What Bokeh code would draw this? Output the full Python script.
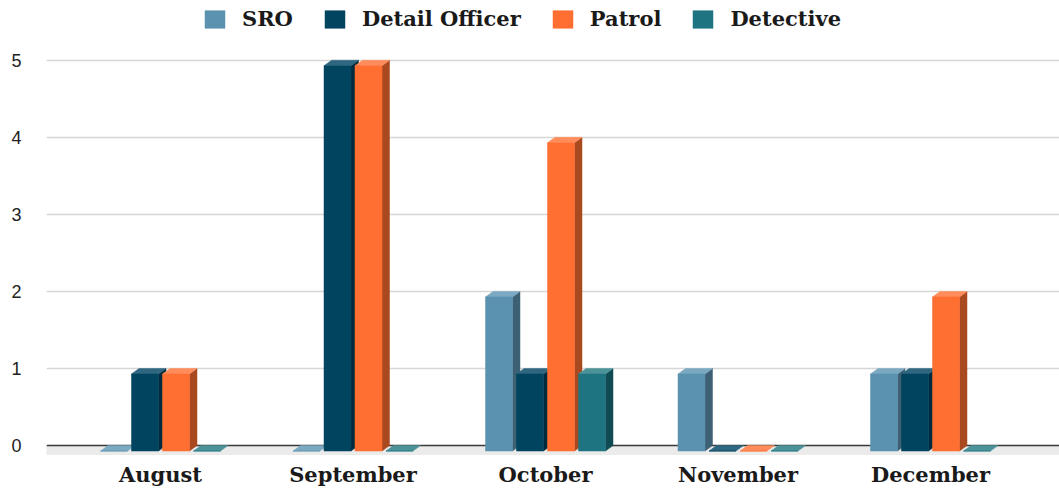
from bokeh.plotting import figure
from bokeh.models import Range1d, FixedTicker, Legend, LegendItem, ColumnDataSource, Span
from bokeh.embed import file_html
from bokeh.resources import INLINE

# ---- data ----
months = ["August", "September", "October", "November", "December"]
series = ["SRO", "Detail Officer", "Patrol", "Detective"]
sro = [0, 0, 2, 1, 1]
detail_officer = [1, 5, 1, 0, 1]
patrol = [1, 5, 4, 0, 2]
detective = [0, 0, 1, 0, 0]
y_ticks = [0, 1, 2, 3, 4, 5]

front_colors = ["#5b92b0", "#00445f", "#ff6f31", "#1e7481"]
side_colors = ["#3d6074", "#002b3e", "#a9491f", "#104a52"]
top_colors = ["#7ba9c2", "#2f6680", "#ff8c5a", "#4c9399"]

values = [sro, detail_officer, patrol, detective]

# ---- layout (pixels) ----
W, H = 1059, 489
LEFT, BOTTOM = 46, 28
PX_X = 192.5          # pixels per category
PX_Y = 77.4           # pixels per unit
X0 = (LEFT - 160) / PX_X
X1 = X0 + (W - LEFT) / PX_X
Y0 = (447 - (H - BOTTOM)) / PX_Y
Y1 = 447 / PX_Y

PITCH = 31 / PX_X
BAR_W = 27 / PX_X
DX = 7.5 / PX_X
DY = 5.5 / PX_Y
offsets = [(-1.5 + k) * PITCH for k in range(4)]

p = figure(width=W, height=H, output_backend="svg", toolbar_location=None,
           x_range=Range1d(X0, X1), y_range=Range1d(Y0, Y1),
           min_border_left=LEFT, min_border_right=0, min_border_top=0,
           min_border_bottom=BOTTOM)
p.outline_line_color = None
p.background_fill_color = "white"
p.border_fill_color = "white"

# floor slab
fl_d = 9 / PX_Y
fl_dx = 11 / PX_X
p.patch([X0, X1, X1, X0 - fl_dx], [0, 0, -fl_d, -fl_d], color="#ebebeb",
        level="underlay")
p.add_layout(Span(location=0, dimension="width", line_color="#3a3a3a",
                  line_width=1.5, level="underlay"))

side_xs, side_ys, side_c = [], [], []
top_xs, top_ys, top_c = [], [], []
for s, vals in enumerate(values):
    for i, v in enumerate(vals):
        left = i + offsets[s] - BAR_W / 2
        right = left + BAR_W
        if v > 0:
            side_xs.append([right, right + DX, right + DX, right])
            side_ys.append([-DY, 0, v, v - DY])
            side_c.append(side_colors[s])
        top_xs.append([left, right, right + DX, left + DX])
        top_ys.append([v - DY, v - DY, v, v])
        top_c.append(top_colors[s])

p.patches(side_xs, side_ys, fill_color=side_c, line_color=side_c, line_width=0.5)
p.patches(top_xs, top_ys, fill_color=top_c, line_color=top_c, line_width=0.5)

renderers = []
for s, vals in enumerate(values):
    src = ColumnDataSource(dict(
        x=[i + offsets[s] for i in range(len(months))],
        top=[v - DY for v in vals],
        bottom=[-DY] * len(months)))
    r = p.vbar(x="x", top="top", bottom="bottom", width=BAR_W, source=src,
               fill_color=front_colors[s], line_color=front_colors[s],
               line_width=0.5)
    renderers.append(r)

legend = Legend(items=[LegendItem(label=series[s], renderers=[renderers[s]])
                       for s in range(4)],
                location=(202 - LEFT, (H - BOTTOM) - 33), orientation="horizontal",
                glyph_width=25, glyph_height=22, label_height=22,
                label_standoff=15, spacing=29, padding=0, margin=0,
                border_line_alpha=0, background_fill_alpha=0,
                label_text_font="DejaVu Serif", label_text_font_style="bold",
                label_text_font_size="21px", label_text_color="#1a1a1a")
p.add_layout(legend)

# grid and axes
p.xgrid.visible = False
p.ygrid.ticker = FixedTicker(ticks=y_ticks[1:])
p.ygrid.grid_line_color = "#d6d6d6"
p.ygrid.grid_line_width = 1.5

p.yaxis.ticker = FixedTicker(ticks=y_ticks)
p.yaxis.axis_line_color = None
p.yaxis.major_tick_line_color = None
p.yaxis.minor_tick_line_color = None
p.yaxis.major_tick_out = 0
p.yaxis.minor_tick_out = 0
p.yaxis.major_label_standoff = 25
p.yaxis.major_label_text_font = "Liberation Sans"
p.yaxis.major_label_text_font_size = "18px"
p.yaxis.major_label_text_color = "#222222"

p.xaxis.ticker = FixedTicker(ticks=list(range(len(months))))
p.xaxis.major_label_overrides = {i: m for i, m in enumerate(months)}
p.xaxis.axis_line_color = None
p.xaxis.major_tick_line_color = None
p.xaxis.minor_tick_line_color = None
p.xaxis.major_tick_out = 0
p.xaxis.minor_tick_out = 0
p.xaxis.major_label_standoff = 2
p.xaxis.major_label_text_font = "DejaVu Serif"
p.xaxis.major_label_text_font_style = "bold"
p.xaxis.major_label_text_font_size = "21px"
p.xaxis.major_label_text_color = "#1a1a1a"

open("out.html", "w").write(file_html(p, INLINE))
